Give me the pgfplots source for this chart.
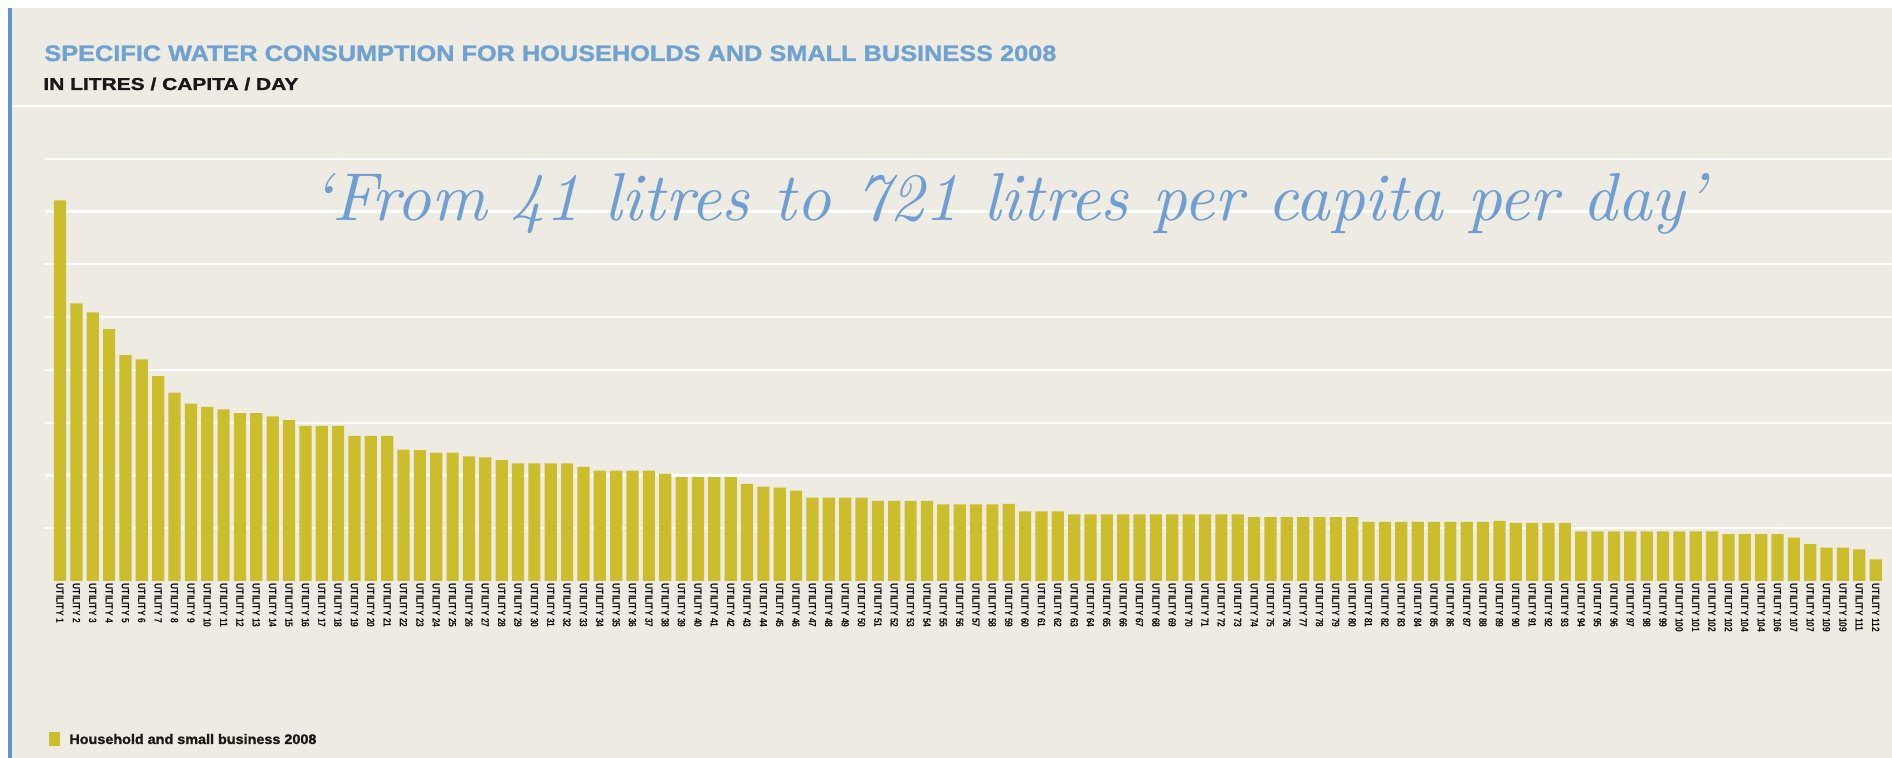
\documentclass[border=0pt]{standalone}
\usepackage{pgfplots}
\pgfplotsset{compat=1.18}
\usepackage{pgfplotstable}
\usepackage{fontspec}
\setmainfont{Liberation Sans}
\newfontfamily\condfont[FakeStretch=0.8]{Liberation Sans}
\newfontfamily\heavyfont[FakeBold=1.2]{Liberation Sans}
\newfontfamily\handfont{Latin Modern Roman}
\definecolor{bg}{RGB}{238,235,226}
\definecolor{barc}{RGB}{204,189,45}
\definecolor{ttl}{RGB}{110,162,210}
\definecolor{scr}{RGB}{110,158,212}
\definecolor{rulec}{RGB}{95,150,210}

\pgfplotstableread{
idx val
1 721
2 526
3 509
4 477
5 428
6 420
7 388
8 357
9 336
10 330
11 325
12 318
13 318
14 312
15 305
16 294
17 294
18 294
19 275
20 275
21 275
22 249
23 248
24 243
25 243
26 236
27 234
28 229
29 223
30 223
31 223
32 223
33 216
34 209
35 209
36 209
37 209
38 203
39 197
40 197
41 197
42 197
43 184
44 179
45 177
46 171
47 158
48 158
49 158
50 158
51 152
52 152
53 152
54 152
55 145
56 145
57 145
58 145
59 146
60 132
61 132
62 132
63 126
64 126
65 126
66 126
67 126
68 126
69 126
70 126
71 126
72 126
73 126
74 121
75 121
76 121
77 121
78 121
79 121
80 121
81 112
82 112
83 112
84 112
85 112
86 112
87 112
88 112
89 114
90 110
91 110
92 110
93 110
94 94
95 94
96 94
97 94
98 94
99 94
100 94
101 94
102 94
103 89
104 89
105 89
106 89
107 82
108 70
109 63
110 63
111 60
112 41
}\datatable

\begin{document}
\begin{tikzpicture}
\useasboundingbox (0,0) rectangle (946pt,379pt);
\fill[bg] (0,0) rectangle (946pt,379pt);
\fill[white] (0,375pt) rectangle (946pt,379pt);
\fill[white] (0,0) rectangle (4pt,379pt);
\fill[rulec] (4pt,0) rectangle (6pt,375pt);
\draw[white, line width=1.2pt] (6pt,326pt) -- (946pt,326pt);

\begin{axis}[
  at={(22.5pt,88.5pt)}, anchor=south west,
  scale only axis, width=923.5pt, height=237.5pt,
  xmin=0.08, xmax=113, ymin=0, ymax=900,
  axis line style={draw=none},
  tick style={draw=none},
  major tick length=0pt,
  ytick={100,200,...,800}, yticklabels={},
  ymajorgrids, grid style={white, line width=1.1pt},
  xtick={1,...,112},
  xticklabel={\pgfmathtruncatemacro{\n}{\tick}UTILITY~\n},
  xticklabel style={rotate=-90, anchor=west, inner sep=1.2pt, text=black,
    font=\condfont\bfseries\fontsize{5.3}{6}\selectfont},
  clip=false,
]
\addplot[ybar, bar width=6.1pt, fill=barc, draw=none] table[x=idx,y=val]{\datatable};
\end{axis}

\node[anchor=base west, inner sep=0, text=ttl] at (22pt,348.5pt)
  {\resizebox{506pt}{7.8pt}{\heavyfont\bfseries SPECIFIC WATER CONSUMPTION FOR HOUSEHOLDS AND SMALL BUSINESS 2008}};
\node[anchor=base west, inner sep=0, text=black!90] at (21.5pt,334pt)
  {\resizebox{127.5pt}{6.2pt}{\heavyfont\bfseries IN LITRES / CAPITA / DAY}};
\node[anchor=base west, inner sep=0, text=scr] at (155.5pt,268.5pt)
  {\resizebox{697pt}{!}{\handfont\itshape ‘From 41 litres to 721 litres per capita per day’}};
\fill[barc] (24.5pt,6pt) rectangle (30pt,13pt);
\node[anchor=base west, inner sep=0, text=black!90] at (34.5pt,7pt)
  {\resizebox{123.5pt}{5pt}{\heavyfont\bfseries Household and small business 2008}};
\end{tikzpicture}
\end{document}
